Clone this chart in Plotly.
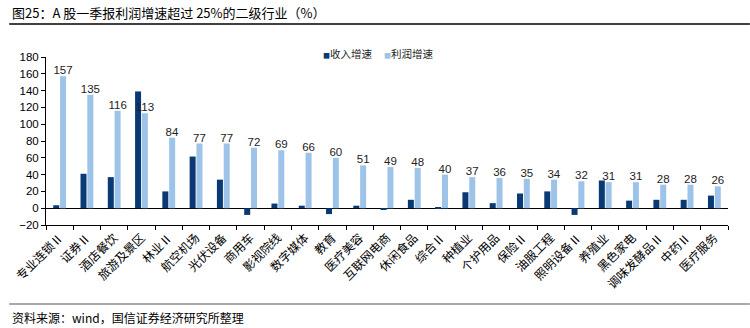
import plotly.graph_objects as go

categories = ["专业连锁Ⅱ", "证券Ⅱ", "酒店餐饮", "旅游及景区", "林业Ⅱ", "航空机场", "光伏设备",
              "商用车", "影视院线", "数字媒体", "教育", "医疗美容", "互联网电商", "休闲食品",
              "综合Ⅱ", "种植业", "个护用品", "保险Ⅱ", "油服工程", "照明设备Ⅱ", "养殖业",
              "黑色家电", "调味发酵品Ⅱ", "中药Ⅱ", "医疗服务"]
revenue_growth = [3.5, 41, 37, 139, 20, 61.5, 34, -8, 5.5, 3, -7, 3, -1, 10,
                  0.3, 19, 6, 17.5, 20, -8, 33, 9, 10, 10, 15]
profit_growth = [157, 135, 116, 113, 84, 77, 77, 72, 69, 66, 60, 51, 49, 48,
                 40, 37, 36, 35, 34, 32, 31, 31, 28, 28, 26]
y_ticks = [-20, 0, 20, 40, 60, 80, 100, 120, 140, 160, 180]
series_names = ["收入增速", "利润增速"]

title_text = "图25：A 股一季报利润增速超过 25%的二级行业（%）"
source_text = "资料来源：wind，国信证券经济研究所整理"

DARK = "#093a74"
LIGHT = "#9dc3e8"
FONT = "Liberation Sans, Noto Sans CJK SC, sans-serif"
CJK = "Noto Sans CJK SC"

# plot area in pixels: x 42..728, y 57..225
PH = 168.0
PW = 686.0

def py(pix):
    return (225 - pix) / PH

def px(pix):
    return (pix - 42) / PW

fig = go.Figure()
fig.add_trace(go.Bar(x=categories, y=revenue_growth, name=series_names[0],
                     marker=dict(color=DARK, line=dict(width=0)), showlegend=False))
fig.add_trace(go.Bar(x=categories, y=profit_growth, name=series_names[1],
                     marker=dict(color=LIGHT, line=dict(width=0)), showlegend=False,
                     text=[str(v) for v in profit_growth], textposition="outside",
                     constraintext="none",
                     textfont=dict(size=11.5, color="#222222", family=FONT),
                     cliponaxis=False))

fig.update_layout(
    width=750, height=328,
    margin=dict(l=42, r=22, t=57, b=103),
    paper_bgcolor="white", plot_bgcolor="white",
    barmode="group", bargap=0.5, bargroupgap=0.12,
    font=dict(family=FONT, size=11, color="#000000"),
    showlegend=False,
)
fig.update_xaxes(
    type="category", showline=True, linecolor="#000000", linewidth=1,
    ticks="outside", tickson="boundaries", ticklen=4, tickcolor="#000000",
    tickangle=-45, tickfont=dict(size=12, color="#000000", family=CJK),
    showgrid=False, zeroline=False,
)
fig.update_yaxes(
    range=[-20, 180], tickvals=y_ticks, showline=True, linecolor="#000000", linewidth=1,
    ticks="outside", ticklen=4, tickcolor="#000000", showgrid=False,
    zeroline=True, zerolinecolor="#000000", zerolinewidth=1,
    tickfont=dict(size=11.5, color="#000000"),
)

# legend (drawn as text)
fig.add_annotation(text='<span style="color:%s;font-size:7px">■</span>%s' % (DARK, series_names[0]),
                   xref="paper", yref="paper", x=px(319), y=py(53),
                   xanchor="left", yanchor="middle", showarrow=False,
                   font=dict(size=10.5, color="#222222", family=CJK))
fig.add_annotation(text='<span style="color:%s;font-size:7px">■</span>%s' % (LIGHT, series_names[1]),
                   xref="paper", yref="paper", x=px(380), y=py(53),
                   xanchor="left", yanchor="middle", showarrow=False,
                   font=dict(size=10.5, color="#222222", family=CJK))

fig.add_annotation(text=title_text, xref="paper", yref="paper", x=px(6), y=py(12),
                   xanchor="left", yanchor="middle", showarrow=False,
                   font=dict(size=13, color="#000000", family=CJK))
fig.add_annotation(text=source_text, xref="paper", yref="paper", x=px(6), y=py(317),
                   xanchor="left", yanchor="middle", showarrow=False,
                   font=dict(size=12, color="#000000", family=CJK))
fig.add_shape(type="line", xref="paper", yref="paper", x0=px(5), x1=px(750),
              y0=py(24), y1=py(24), line=dict(color="#000000", width=1.5))
fig.add_shape(type="line", xref="paper", yref="paper", x0=px(5), x1=px(750),
              y0=py(304), y1=py(304), line=dict(color="#555555", width=1.2))

fig.write_html("out.html")
